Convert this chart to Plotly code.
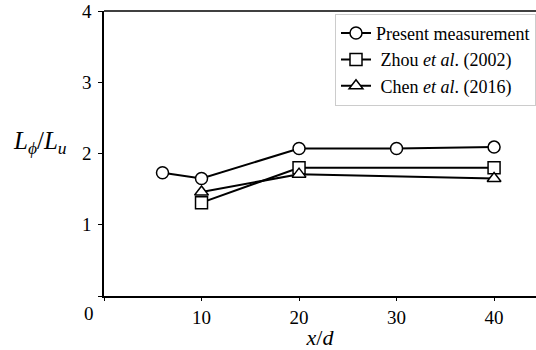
import plotly.graph_objects as go

x_present = [6, 10, 20, 30, 40]
y_present = [1.73, 1.65, 2.07, 2.07, 2.09]
x_zhou = [10, 20, 40]
y_zhou = [1.31, 1.80, 1.80]
x_chen = [10, 20, 40]
y_chen = [1.46, 1.71, 1.65]
x_ticks = [0, 10, 20, 30, 40]
x_ticktext = ["", "10", "20", "30", "40"]
y_ticks = [0, 1, 2, 3, 4]
y_ticktext = ["", "1", "2", "3", "4"]

FONT = "Liberation Serif"

fig = go.Figure()
series = [
    (x_present, y_present, "circle", "Present measurement"),
    (x_zhou, y_zhou, "square", " Zhou <i>et al</i>. (2002)"),
    (x_chen, y_chen, "triangle-up", " Chen <i>et al</i>. (2016)"),
]
for xs, ys, sym, name in series:
    fig.add_trace(go.Scatter(
        x=xs, y=ys, mode="lines+markers", name=name,
        line=dict(color="black", width=2),
        marker=dict(symbol=sym, size=12, color="white",
                    line=dict(color="black", width=1.5)),
    ))

fig.update_layout(
    width=536, height=350,
    margin=dict(l=104, r=0, t=11, b=54),
    paper_bgcolor="white", plot_bgcolor="white",
    font=dict(family=FONT, size=19, color="black"),
    showlegend=True,
    legend=dict(x=1, y=0.99, xanchor="right", yanchor="top",
                bordercolor="#cccccc", borderwidth=1, bgcolor="white",
                font=dict(family=FONT, size=18, color="black"), tracegroupgap=0,
                itemwidth=30),
    xaxis=dict(range=[0, 44.3], tickvals=x_ticks, ticktext=x_ticktext,
               showline=True, linecolor="black", linewidth=1.5,
               ticks="outside", ticklen=3, tickcolor="black",
               tickfont=dict(family=FONT, size=19, color="black"),
               showgrid=False, zeroline=False,
               title=dict(text="<i>x</i>/<i>d</i>", font=dict(family=FONT, size=22, color="black"),
                          standoff=0)),
    yaxis=dict(range=[0, 4], tickvals=y_ticks, ticktext=y_ticktext,
               showline=True, linecolor="black", linewidth=1.5,
               ticks="outside", ticklen=4, tickcolor="black",
               ticklabelstandoff=3,
               tickfont=dict(family=FONT, size=19, color="black"),
               showgrid=False, zeroline=False),
    shapes=[dict(type="line", xref="paper", yref="paper", x0=0, x1=1, y0=1, y1=1,
                 line=dict(color="black", width=1.5))],
    annotations=[
        dict(text="0", xref="paper", yref="paper", x=-0.035, y=0, yshift=-17,
             xanchor="center", yanchor="middle",
             showarrow=False, font=dict(family=FONT, size=19, color="black")),
        dict(text="<i>L</i><sub><i>ϕ</i></sub>/<i>L</i><sub><i>u</i></sub>",
             xref="paper", yref="paper", x=-0.215, y=0.54, xanchor="left", yanchor="middle",
             showarrow=False, font=dict(family=FONT, size=25, color="black")),
    ],
)

fig.write_html("out.html")
